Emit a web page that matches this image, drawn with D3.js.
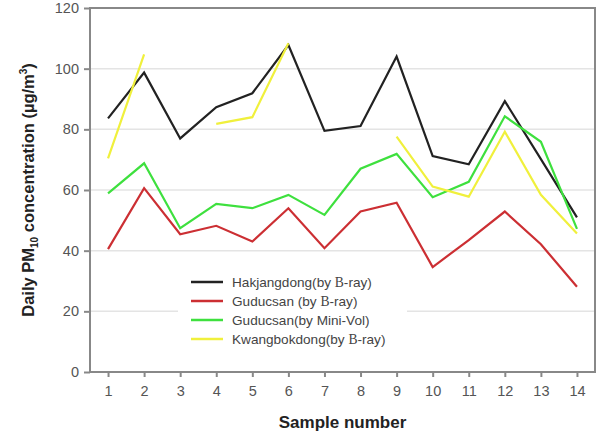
<!DOCTYPE html>
<html lang="en">
<head>
    <meta charset="UTF-8">
    <title>Daily PM10 concentration</title>
    <script src="https://cdn.jsdelivr.net/npm/d3@7"></script>
    <style>
        body { margin: 0; background: #fff; }
        svg { display: block; font-family: Arial, "Liberation Sans", sans-serif; }
    </style>
</head>
<body>
    <script>
        let samples = [1, 2, 3, 4, 5, 6, 7, 8, 9, 10, 11, 12, 13, 14];
        let hakjangdong = [83.6, 98.7, 77, 87.3, 91.9, 107.8, 79.5, 81.1, 104, 71.2, 68.5, 89.3, 70.2, 51];
        let guducsanBeta = [40.5, 60.6, 45.4, 48.2, 43, 54, 40.8, 52.9, 55.8, 34.6, 43.5, 52.9, 42.1, 28.1];
        let guducsanMiniVol = [58.9, 68.8, 47.4, 55.4, 54, 58.4, 51.8, 67, 71.9, 57.6, 62.7, 84.3, 75.9, 47.2];
        let kwangbokdong = [70.4, 104.7, null, 81.8, 84, 108.4, null, null, 77.6, 61.1, 57.8, 79.2, 58.4, 45.7];
        let yTicks = [0, 20, 40, 60, 80, 100, 120];

        let width = 605, height = 432;
        let margin = { top: 8, right: 10, bottom: 60, left: 90 };

        let svg = d3.select('body').append('svg')
            .attr('width', width)
            .attr('height', height);

        let x = d3.scaleLinear().domain([0.5, 14.5]).range([margin.left, width - margin.right]);
        let y = d3.scaleLinear().domain([0, 120]).range([height - margin.bottom, margin.top]);

        // grid lines
        svg.append('g')
           .selectAll('line')
           .data(yTicks.filter(d => d > 0 && d < 120))
           .enter()
           .append('line')
           .attr('x1', x.range()[0])
           .attr('x2', x.range()[1])
           .attr('y1', d => y(d))
           .attr('y2', d => y(d))
           .attr('stroke', '#e4e4e4')
           .attr('stroke-width', 1.5);

        let series = [
            { name: 'Hakjangdong(by ', tail: ')', values: hakjangdong, color: '#222222' },
            { name: 'Guducsan (by ', tail: ')', values: guducsanBeta, color: '#cc2f33' },
            { name: 'Guducsan(by Mini-Vol)', tail: null, values: guducsanMiniVol, color: '#3ee03e' },
            { name: 'Kwangbokdong(by ', tail: ')', values: kwangbokdong, color: '#f0f03c' }
        ];

        // legend box (white, covers the grid behind it)
        let legend = svg.append('g').attr('transform', 'translate(178, 271)');
        legend.append('rect')
              .attr('width', 229)
              .attr('height', 76)
              .attr('fill', '#fff');

        let line = d3.line()
            .defined(d => d != null)
            .x((d, i) => x(samples[i]))
            .y(d => y(d));

        svg.append('g')
           .selectAll('path')
           .data(series)
           .enter()
           .append('path')
           .attr('fill', 'none')
           .attr('stroke', d => d.color)
           .attr('stroke-width', 2.2)
           .attr('stroke-linejoin', 'miter')
           .attr('d', d => line(d.values));

        let item = legend.selectAll('g.item')
            .data(series)
            .enter()
            .append('g')
            .attr('class', 'item')
            .attr('transform', (d, i) => `translate(0, ${11 + i * 19})`);

        item.append('line')
            .attr('x1', 13).attr('x2', 45)
            .attr('stroke', d => d.color)
            .attr('stroke-width', 2.5);

        let label = item.append('text')
            .attr('x', 54)
            .attr('y', 5)
            .attr('font-size', 13.6)
            .attr('fill', '#444');
        label.append('tspan').text(d => d.name);
        label.filter(d => d.tail)
             .append('tspan').attr('font-family', '"Liberation Serif", serif').text('B');
        label.filter(d => d.tail)
             .append('tspan').text('-ray)');

        // frame
        svg.append('rect')
           .attr('x', x.range()[0])
           .attr('y', y.range()[1])
           .attr('width', x.range()[1] - x.range()[0])
           .attr('height', y.range()[0] - y.range()[1])
           .attr('fill', 'none')
           .attr('stroke', '#888')
           .attr('stroke-width', 2);

        // axes
        let xAxis = d3.axisBottom(x).tickValues(samples).tickSize(5).tickPadding(9);
        let yAxis = d3.axisLeft(y).tickValues(yTicks).tickSize(6).tickPadding(5);

        let gx = svg.append('g')
            .attr('transform', `translate(0, ${y.range()[0]})`)
            .call(xAxis);
        let gy = svg.append('g')
            .attr('transform', `translate(${x.range()[0]}, 0)`)
            .call(yAxis);

        [gx, gy].forEach(g => {
            g.select('.domain').remove();
            g.selectAll('.tick line').attr('stroke', '#888').attr('stroke-width', 2);
            g.selectAll('.tick text')
             .attr('font-size', 14.5)
             .attr('font-family', 'Arial, "Liberation Sans", sans-serif')
             .attr('fill', '#555');
        });

        // axis titles
        svg.append('text')
           .attr('x', (x.range()[0] + x.range()[1]) / 2)
           .attr('y', 428)
           .attr('text-anchor', 'middle')
           .attr('font-size', 17)
           .attr('font-weight', 'bold')
           .attr('fill', '#222')
           .text('Sample number');

        let yTitle = svg.append('text')
           .attr('transform', `translate(34, ${(y.range()[0] + y.range()[1]) / 2}) rotate(-90)`)
           .attr('text-anchor', 'middle')
           .attr('font-size', 16.5)
           .attr('font-weight', 'bold')
           .attr('fill', '#222');
        yTitle.append('tspan').text('Daily PM');
        yTitle.append('tspan').attr('font-size', 10).attr('dy', 4).text('10');
        yTitle.append('tspan').attr('dy', -4).text(' concentration (\u00b5g/m');
        yTitle.append('tspan').attr('font-size', 10).attr('dy', -7).text('3');
        yTitle.append('tspan').attr('dy', 7).text(')');
    </script>
</body>
</html>
